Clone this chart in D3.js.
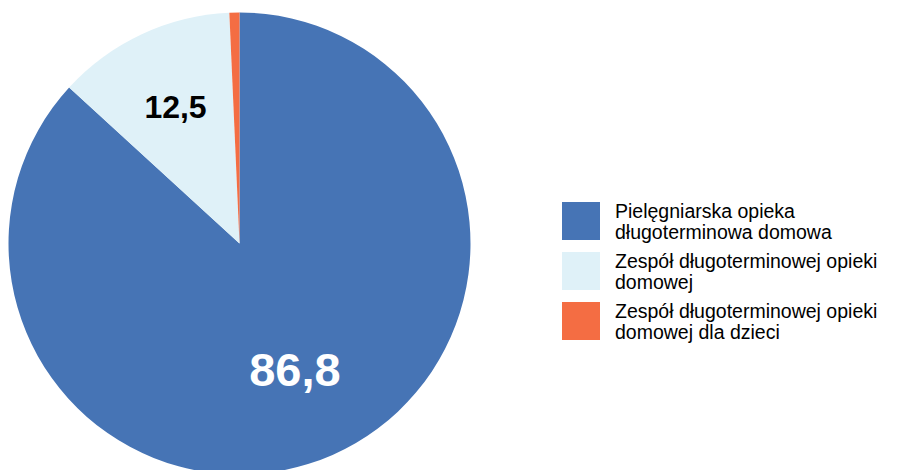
<!DOCTYPE html>
<html><head><meta charset="utf-8">
<script src="https://cdn.jsdelivr.net/npm/d3@7"></script>
<style>body{margin:0;background:#fff}svg{display:block}</style>
</head><body>
<script>
const categories = ["Pielęgniarska opieka długoterminowa domowa", "Zespół długoterminowej opieki domowej", "Zespół długoterminowej opieki domowej dla dzieci"];
const legendLines = [["Pielęgniarska opieka", "długoterminowa domowa"], ["Zespół długoterminowej opieki", "domowej"], ["Zespół długoterminowej opieki", "domowej dla dzieci"]];
const values = [86.8, 12.5, 0.7];
const labels = ["86,8", "12,5", ""];
const colors = ["#4674b5", "#dff1f8", "#f46d43"];

const W = 899, H = 470;
const svg = d3.select("body").append("svg").attr("width", W).attr("height", H);
const cx = 239.5, cy = 243.5, R = 231;
const pie = d3.pie().sort(null).value(d => d)(values);
const arc = d3.arc().innerRadius(0).outerRadius(R);
const g = svg.append("g").attr("transform", `translate(${cx},${cy})`);
g.selectAll("path").data(pie).enter().append("path")
  .attr("d", arc).attr("fill", (d, i) => colors[i]);

// labels
const labelStyle = [{fill: "#fff", size: 47, r: 0.595}, {fill: "#000", size: 32, r: 0.655}];
pie.forEach((d, i) => {
  if (!labels[i]) return;
  const a = (d.startAngle + d.endAngle) / 2;
  const r = labelStyle[i].r * R;
  g.append("text")
    .attr("x", Math.sin(a) * r).attr("y", -Math.cos(a) * r)
    .attr("dy", "0.36em")
    .attr("text-anchor", "middle")
    .attr("font-family", "Liberation Sans, Arial, sans-serif")
    .attr("font-weight", "bold").attr("font-size", labelStyle[i].size)
    .attr("fill", labelStyle[i].fill).text(labels[i]);
});

// legend
const lg = svg.append("g").attr("transform", "translate(562,202)");
categories.forEach((c, i) => {
  const row = lg.append("g").attr("transform", `translate(0,${i * 50})`);
  row.append("rect").attr("width", 38).attr("height", 38).attr("fill", colors[i]);
  legendLines[i].forEach((t, j) => {
    row.append("text").attr("x", 53).attr("y", 15.5 + j * 21)
      .attr("font-family", "Liberation Sans, Arial, sans-serif")
      .attr("font-size", 19.5).attr("fill", "#000").text(t);
  });
});
</script>
</body></html>
